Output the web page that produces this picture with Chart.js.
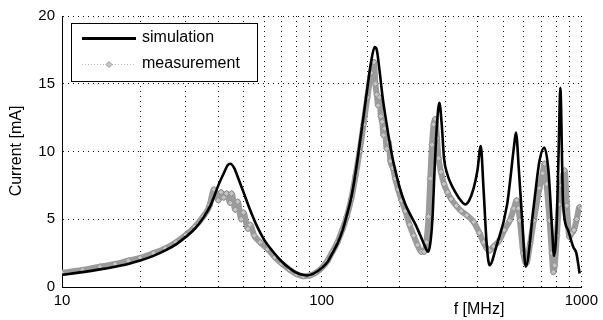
<!DOCTYPE html>
<html lang="en">
<head>
    <meta charset="UTF-8">
    <title>Current vs frequency</title>
    <script src="https://cdn.jsdelivr.net/npm/chart.js"></script>
    <style>
        html, body { margin: 0; padding: 0; background: #fff; }
        #wrap { width: 603px; height: 320px; }
    </style>
</head>
<body>
<div id="wrap"><canvas id="chart"></canvas></div>

<script>
    // simulation curve (f in MHz, current in mA)
    const simFreq = [10, 12, 14, 16, 18, 20, 22.5, 25, 27.5, 30, 32.5, 35, 37.5, 40, 42, 43.5, 44.5, 46, 48, 50,
        53, 56, 60, 65, 70, 75, 80, 85, 88, 92, 97, 100, 105, 110, 115, 120, 125, 130, 135, 140,
        145, 150, 155, 160, 163, 167, 172, 178, 183, 190, 200, 210, 220, 230, 240, 250, 257, 262, 267, 272,
        278, 284, 290, 296, 305, 315, 325, 340, 357, 370, 385, 398, 410, 420, 432, 443, 470, 518, 550, 560,
        575, 592, 611, 655, 690, 720, 747, 771, 785, 805, 820, 830, 851, 889, 931, 957, 985];
    const simCurrent = [0.9, 1.1, 1.3, 1.5, 1.7, 1.95, 2.3, 2.7, 3.15, 3.7, 4.3, 5.1, 6.1, 7.5, 8.4, 9.0, 9.1, 8.8, 7.9, 7.0,
        5.7, 4.6, 3.5, 2.6, 1.9, 1.4, 1.05, 0.88, 0.85, 0.95, 1.2, 1.4, 1.8, 2.5, 3.2, 4.1, 5.3, 6.6, 8.4, 10.5,
        12.6, 14.7, 16.6, 17.7, 17.5, 16.0, 13.9, 12.0, 10.6, 9.0, 7.3, 6.1, 5.3, 4.6, 3.8, 3.0, 2.6, 3.2, 5.0, 8.5,
        12.0, 13.6, 12.0, 9.5, 8.3, 7.6, 7.1, 6.5, 6.1, 6.4, 7.3, 8.6, 10.4, 7.3, 3.2, 1.6, 2.95, 6.1, 10.3, 11.4,
        8.6, 4.9, 1.5, 5.9, 9.3, 10.3, 8.6, 4.4, 2.3, 5.0, 11.0, 14.7, 6.1, 4.2, 2.95, 2.5, 1.0];

    const measFreq = [10, 12, 14, 16, 18, 20, 22.5, 25, 27.5, 30, 32.5, 35, 37, 38.5, 40, 41, 42, 43, 44.5, 45,
        46.5, 47.5, 49, 50, 52, 53, 55, 58, 62, 66, 70, 75, 80, 85, 90, 95, 100, 105, 110, 115,
        120, 125, 130, 135, 140, 145, 150, 155, 159, 161, 163, 165, 167, 169, 171, 173, 175, 178, 181, 184,
        188, 192, 197, 203, 210, 218, 226, 234, 242, 248, 253, 258, 262, 266, 270, 274, 278, 282, 288, 296,
        305, 315, 330, 345, 362, 385, 405, 420, 432, 444, 460, 482, 505, 530, 550, 564, 572, 580, 598, 614,
        635, 656, 690, 710, 722, 735, 755, 770, 780, 790, 805, 820, 840, 862, 880, 900, 920, 937, 960, 985, 1000];
    const measCurrent = [1.05, 1.25, 1.5, 1.7, 1.95, 2.15, 2.5, 2.85, 3.3, 3.85, 4.45, 5.2, 6.0, 7.2, 6.4, 7.0, 6.6, 6.9, 6.2, 6.9,
        5.7, 6.3, 5.0, 5.5, 4.3, 4.6, 3.8, 3.3, 2.8, 2.2, 1.75, 1.3, 0.95, 0.8, 0.85, 1.05, 1.4, 1.9, 2.6, 3.3,
        4.2, 5.2, 6.5, 8.2, 10.0, 12.0, 14.0, 15.8, 16.6, 15.0, 14.2, 13.4, 14.0, 12.6, 12.2, 11.2, 11.7, 10.2, 10.7, 9.3,
        8.8, 8.0, 7.2, 6.4, 5.6, 4.6, 3.8, 3.1, 2.6, 2.6, 3.3, 5.2, 8.0, 10.5, 12.0, 12.4, 11.0, 9.5, 8.5, 7.6,
        7.0, 6.5, 6.0, 5.6, 5.3, 4.8, 4.0, 3.3, 2.85, 2.7, 3.0, 3.4, 4.2, 4.9, 5.8, 6.4, 5.8, 4.9, 2.5, 1.75,
        3.2, 4.9, 7.3, 8.4, 9.1, 7.6, 4.9, 2.5, 1.1, 1.6, 3.8, 6.1, 7.5, 8.6, 6.0, 3.7, 4.0, 4.2, 5.0, 5.9, 5.8];

    const yTicks = [0, 5, 10, 15, 20];
    const xTickLabels = [10, 100, 1000];

    const FONT = '"Liberation Sans", Arial, sans-serif';

    function toPoints(xs, ys) {
        return xs.map((x, i) => ({x: x, y: ys[i]}));
    }

    // legend box drawn inside the plot, plus the axis titles
    const decorations = {
        id: 'decorations',
        afterDatasetsDraw(chart) {
            const ctx = chart.ctx;
            const ds = chart.data.datasets;
            ctx.save();

            // legend
            ctx.fillStyle = '#fff';
            ctx.fillRect(71.5, 23.5, 186, 58);
            ctx.strokeStyle = '#000';
            ctx.lineWidth = 1;
            ctx.strokeRect(71.5, 23.5, 186, 58);

            ctx.strokeStyle = '#000';
            ctx.lineWidth = 3;
            ctx.beginPath();
            ctx.moveTo(82, 38.5);
            ctx.lineTo(136, 38.5);
            ctx.stroke();

            ctx.strokeStyle = '#bbb';
            ctx.lineWidth = 1;
            ctx.setLineDash([1, 2]);
            ctx.beginPath();
            ctx.moveTo(82, 64.5);
            ctx.lineTo(136, 64.5);
            ctx.stroke();
            ctx.setLineDash([]);
            ctx.fillStyle = '#c8c8c8';
            ctx.strokeStyle = '#999';
            ctx.beginPath();
            ctx.moveTo(109, 61.5);
            ctx.lineTo(112, 64.5);
            ctx.lineTo(109, 67.5);
            ctx.lineTo(106, 64.5);
            ctx.closePath();
            ctx.fill();
            ctx.stroke();

            ctx.fillStyle = '#000';
            ctx.font = '16px ' + FONT;
            ctx.textBaseline = 'middle';
            ctx.textAlign = 'left';
            ctx.fillText(ds[0].label, 142, 38);
            ctx.fillText(ds[1].label, 142, 64);

            // axis titles
            ctx.textAlign = 'center';
            ctx.fillText('f [MHz]', 479, 310);
            ctx.translate(17, 151);
            ctx.rotate(-Math.PI / 2);
            ctx.fillText('Current [mA]', 0, 0);
            ctx.restore();
        }
    };

    new Chart(document.getElementById('chart'), {
        type: 'line',
        data: {
            datasets: [
                {
                    label: 'simulation',
                    data: toPoints(simFreq, simCurrent),
                    borderColor: '#000',
                    borderWidth: 2.6,
                    pointRadius: 0,
                    cubicInterpolationMode: 'monotone'
                },
                {
                    label: 'measurement',
                    data: toPoints(measFreq, measCurrent),
                    borderColor: '#9c9c9c',
                    borderWidth: 6,
                    pointStyle: 'rectRot',
                    pointRadius: 3,
                    pointBackgroundColor: '#c4c4c4',
                    pointBorderColor: '#8c8c8c',
                    pointBorderWidth: 1,
                    cubicInterpolationMode: 'monotone'
                }
            ]
        },
        options: {
            responsive: true,
            maintainAspectRatio: false,
            animation: false,
            layout: {padding: {top: 14, right: 18, left: 0, bottom: 0}},
            plugins: {
                legend: {display: false},
                tooltip: {enabled: false}
            },
            scales: {
                x: {
                    type: 'logarithmic',
                    min: 10,
                    max: 1000,
                    afterFit(scale) { scale.height = 33; },
                    grid: {color: '#111', lineWidth: 1, drawTicks: false},
                    border: {display: true, color: '#000', width: 1, dash: [1, 4]},
                    ticks: {
                        autoSkip: false,
                        maxRotation: 0,
                        padding: 5,
                        color: '#000',
                        font: {family: FONT, size: 15},
                        callback: (v) => xTickLabels.includes(v) ? String(v) : ''
                    }
                },
                y: {
                    min: 0,
                    max: 20,
                    afterFit(scale) { scale.width = 62; },
                    afterBuildTicks(scale) { scale.ticks = yTicks.map(v => ({value: v})); },
                    grid: {color: '#111', lineWidth: 1, drawTicks: false},
                    border: {display: true, color: '#000', width: 1, dash: [1, 4]},
                    ticks: {
                        padding: 7,
                        color: '#000',
                        font: {family: FONT, size: 15}
                    }
                }
            }
        },
        plugins: [decorations]
    });
</script>
</body>
</html>
